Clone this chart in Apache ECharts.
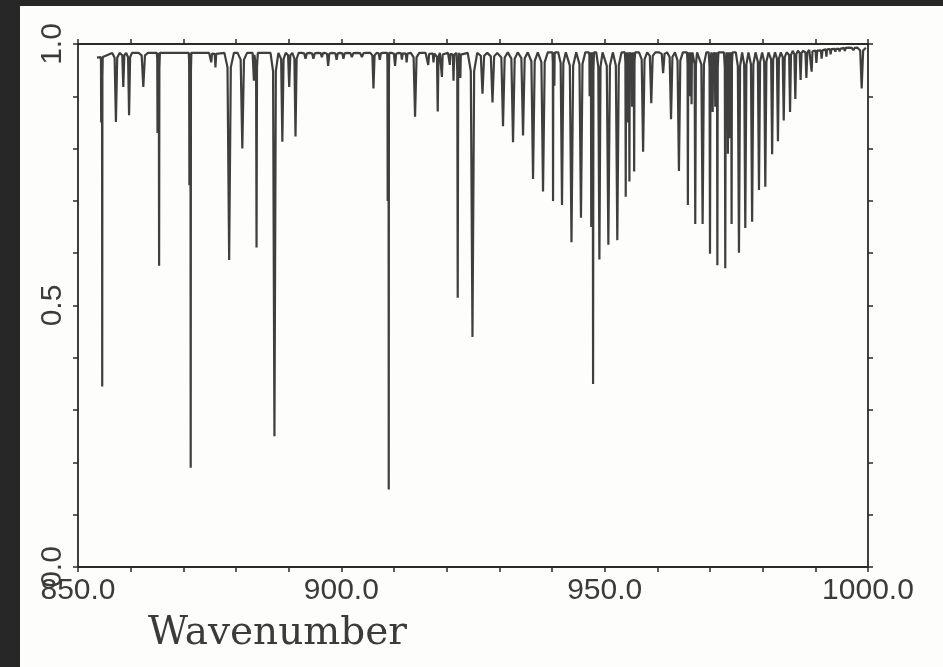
<!DOCTYPE html>
<html>
<head>
<meta charset="utf-8">
<script src="https://cdn.jsdelivr.net/npm/echarts@6/dist/echarts.min.js"></script>
<style>
  html, body { margin: 0; padding: 0; }
  #frame { position: relative; width: 943px; height: 667px; background: #272727; overflow: hidden; }
  #paper { position: absolute; left: 20px; top: 6px; width: 923px; height: 661px; background: #fdfdfc; }
  #chart { position: absolute; left: 0; top: 0; width: 943px; height: 667px; }
</style>
</head>
<body>
<div id="frame"><div id="paper"></div><div id="chart"></div></div>
<script>
// ---- data ----
const xTickLabels = ['850.0', '900.0', '950.0', '1000.0'];
const yTickLabels = ['0.0', '0.5', '1.0'];
const xAxisTitle = 'Wavenumber';

// spectrum extent
const spectrumStart = [853.6, 0.974];
const spectrumEnd = [999.7, 0.993];

// continuum level (step knots): wavenumber -> transmittance
const continuumWavenumber = [853.6, 855.5, 930.0, 985.0, 989.0, 992.0, 995.0];
const continuumLevel      = [0.975, 0.983, 0.984, 0.987, 0.989, 0.991, 0.993];

// absorption lines: centre wavenumber and transmittance at line centre
const lineWavenumber = [
  854.4, 854.6, 857.2, 858.6, 859.7, 862.4, 865.1, 865.4, 871.15, 871.4,
  875.3, 876.1, 878.7, 881.2, 883.4, 883.9, 887.3, 888.8, 890.1, 891.3,
  893.2, 894.7, 896.3, 897.5, 899.1, 900.4, 902.0, 903.9, 906.1, 907.3,
  908.8, 909.0, 910.2, 911.5, 912.4, 914.0, 916.5, 917.5, 918.3, 919.1,
  920.6, 921.3, 922.1, 922.6, 924.9, 926.8, 928.7, 930.7, 932.6, 934.5,
  936.4, 938.3, 940.2, 940.45, 941.9, 943.7, 945.5, 947.15, 947.45, 947.8,
  949.0, 950.7, 952.4, 954.0, 954.35, 954.7, 955.2, 955.6, 957.3, 958.85,
  961.1, 962.6, 964.1, 965.8, 966.15, 966.5, 967.2, 968.6, 970.0, 970.5,
  971.0, 971.4, 972.9, 973.4, 973.75, 974.1, 975.5, 976.7, 978.0, 979.3,
  980.5, 981.8, 982.9, 984.0, 985.2, 986.2, 987.2, 988.3, 989.3, 990.2,
  991.2, 992.1, 992.9, 993.8, 994.6, 995.6, 997.2, 998.8
];
const lineTransmittance = [
  0.85, 0.345, 0.851, 0.918, 0.864, 0.918, 0.83, 0.576, 0.73, 0.19,
  0.965, 0.955, 0.587, 0.80, 0.93, 0.611, 0.25, 0.813, 0.918, 0.823,
  0.972, 0.972, 0.975, 0.958, 0.97, 0.972, 0.975, 0.975, 0.915, 0.97,
  0.70, 0.148, 0.958, 0.97, 0.965, 0.861, 0.96, 0.965, 0.871, 0.937,
  0.96, 0.93, 0.515, 0.935, 0.44, 0.905, 0.888, 0.843, 0.812, 0.825,
  0.742, 0.718, 0.70, 0.92, 0.692, 0.621, 0.668, 0.90, 0.65, 0.35,
  0.588, 0.616, 0.625, 0.708, 0.85, 0.737, 0.88, 0.756, 0.794, 0.887,
  0.944, 0.856, 0.757, 0.692, 0.90, 0.885, 0.656, 0.656, 0.599, 0.87,
  0.88, 0.577, 0.571, 0.79, 0.82, 0.656, 0.601, 0.648, 0.66, 0.721,
  0.727, 0.789, 0.814, 0.854, 0.87, 0.895, 0.931, 0.935, 0.947, 0.964,
  0.972, 0.976, 0.98, 0.985, 0.986, 0.987, 0.988, 0.915
];

// ---- build the line-series table from the arrays ----
function continuumAt(wn) {
  let v = continuumLevel[0];
  for (let i = 0; i < continuumWavenumber.length; i++) {
    if (wn >= continuumWavenumber[i]) v = continuumLevel[i];
  }
  return v;
}
const spectrum = [spectrumStart.slice()];
for (let i = 0; i < lineWavenumber.length; i++) {
  const c = lineWavenumber[i], t = lineTransmittance[i];
  const prev = i > 0 ? lineWavenumber[i - 1] : spectrumStart[0] - 2;
  const next = i < lineWavenumber.length - 1 ? lineWavenumber[i + 1] : spectrumEnd[0] + 2;
  const half = Math.min(0.9, (c - prev) / 2, (next - c) / 2);
  const base = continuumAt(c);
  const sd = Math.min(0.035, 0.07 * (base - t));
  const pts = [
    [c - half, base], [c - 0.35 * half, base - sd], [c, t],
    [c + 0.35 * half, base - sd], [c + half, base]
  ];
  pts.forEach(p => {
    if (p[0] > spectrum[spectrum.length - 1][0] && p[0] < spectrumEnd[0]) spectrum.push(p);
  });
}
spectrum.push(spectrumEnd.slice());

const chart = echarts.init(document.getElementById('chart'), null, { renderer: 'canvas' });
const axisColor = '#2a2a2a';
const textColor = '#3b3b3b';
const labelFont = { fontFamily: 'Liberation Sans', fontSize: 30, color: textColor };

chart.setOption({
  backgroundColor: 'transparent',
  animation: false,
  grid: { left: 78, right: 75, top: 44, bottom: 100, containLabel: false },
  xAxis: [
    {
      type: 'value', position: 'bottom', min: 850, max: 1000, interval: 10,
      axisLine: { show: true, onZero: false, lineStyle: { color: axisColor, width: 1.8 } },
      axisTick: { show: true, inside: false, length: 5, lineStyle: { color: axisColor, width: 1.5 } },
      axisLabel: Object.assign({
        margin: 9,
        formatter: v => { const s = v.toFixed(1); return xTickLabels.indexOf(s) >= 0 ? s : ''; }
      }, labelFont),
      splitLine: { show: false }
    },
    {
      type: 'value', position: 'top', min: 850, max: 1000, interval: 10,
      axisLine: { show: true, onZero: false, lineStyle: { color: axisColor, width: 1.8 } },
      axisTick: { show: true, inside: false, length: 5, lineStyle: { color: axisColor, width: 1.5 } },
      axisLabel: { show: false }, splitLine: { show: false }
    }
  ],
  yAxis: [
    {
      type: 'value', position: 'left', min: 0, max: 1, interval: 0.1,
      axisLine: { show: true, onZero: false, lineStyle: { color: axisColor, width: 1.8 } },
      axisTick: { show: true, inside: false, length: 5, lineStyle: { color: axisColor, width: 1.5 } },
      axisLabel: Object.assign({
        rotate: 90, margin: 10,
        formatter: v => { const s = v.toFixed(1); return (Math.abs(v * 2 - Math.round(v * 2)) < 1e-6 && yTickLabels.indexOf(s) >= 0) ? s : ''; }
      }, labelFont),
      splitLine: { show: false }
    },
    {
      type: 'value', position: 'right', min: 0, max: 1, interval: 0.1,
      axisLine: { show: true, onZero: false, lineStyle: { color: axisColor, width: 1.8 } },
      axisTick: { show: true, inside: false, length: 5, lineStyle: { color: axisColor, width: 1.5 } },
      axisLabel: { show: false }, splitLine: { show: false }
    }
  ],
  graphic: [
    {
      type: 'text', left: 148, top: 614,
      style: { text: xAxisTitle, font: '39px "DejaVu Serif"', fill: textColor }
    }
  ],
  series: [
    {
      type: 'line', xAxisIndex: 0, yAxisIndex: 0,
      data: spectrum, showSymbol: false, symbol: 'none', sampling: null,
      lineStyle: { color: '#3f3f3f', width: 2.2 },
      clip: true
    }
  ]
});
</script>
</body>
</html>
